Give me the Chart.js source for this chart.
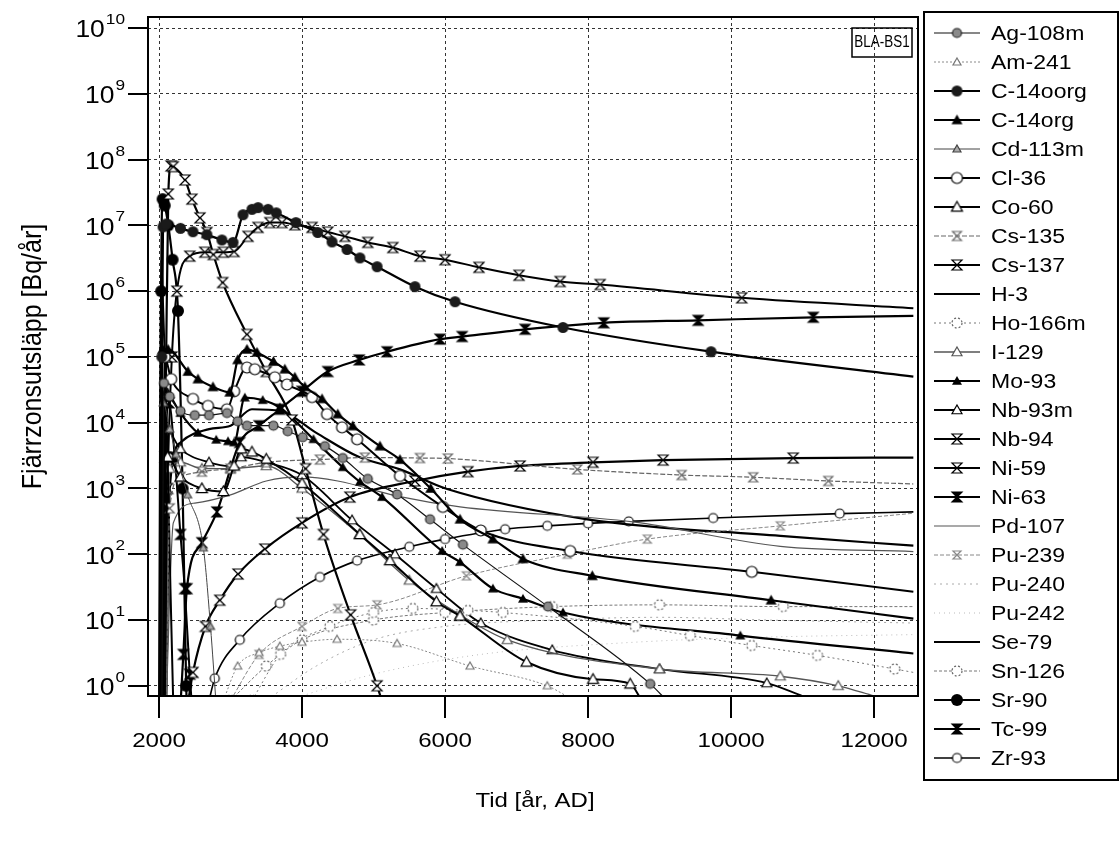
<!DOCTYPE html>
<html>
<head>
<meta charset="utf-8">
<script src="https://cdn.jsdelivr.net/npm/chart.js@4.4.1/dist/chart.umd.min.js"></script>
<style>
  html, body { margin: 0; padding: 0; background: #fff; }
</style>
</head>
<body>
<canvas id="chart" width="1119" height="846"></canvas>
<script>
// axis ticks
const xTicks = [2000, 4000, 6000, 8000, 10000, 12000];
const yTicks = [1, 1e1, 1e2, 1e3, 1e4, 1e5, 1e6, 1e7, 1e8, 1e9, 1e10];

// series: time [år, AD] and release [Bq/år]
const agT = [2040, 2070, 2150, 2300, 2500, 2700, 2950, 3100, 3230, 3600, 3800, 4010, 4320, 4570, 4920, 5330, 5790, 6250, 7440, 8870, 9100];
const agV = [0.5, 4e4, 2.5e4, 1.5e4, 1.3e4, 1.3e4, 1.4e4, 1.05e4, 9e3, 9e3, 7.4e3, 6e3, 4.4e3, 2.9e3, 1.4e3, 810, 340, 140, 16, 1.07, 0.6];

const amT = [2900, 3100, 3400, 3690, 4000, 4490, 5330, 6350, 7430, 7700];
const amV = [0.6, 2, 3.2, 4, 4.6, 5.1, 4.4, 2, 1, 0.7];

const c14oT = [2020, 2040, 2056, 2100, 2300, 2475, 2670, 2880, 3035, 3175, 3300, 3385, 3525, 3640, 3915, 4220, 4420, 4630, 4810, 5050, 5580, 6140, 7650, 9720, 12550];
const c14oV = [0.5, 1e5, 9.5e6, 1.05e7, 9e6, 8e6, 7.2e6, 6e6, 5.5e6, 1.45e7, 1.75e7, 1.86e7, 1.75e7, 1.55e7, 1.1e7, 7.8e6, 5.6e6, 4.3e6, 3.2e6, 2.35e6, 1.17e6, 6.9e5, 2.8e5, 1.2e5, 5e4];

const c14T = [2030, 2050, 2126, 2405, 2545, 2755, 2990, 3100, 3230, 3370, 3600, 3760, 3900, 4040, 4280, 4500, 4710, 5090, 5370, 5800, 6210, 6670, 7090, 8060, 10560, 12550];
const c14V = [0.5, 1.3e5, 1.3e5, 6e4, 4.6e4, 3.5e4, 2.9e4, 9e4, 1.3e5, 1.17e5, 8.5e4, 6.5e4, 4.9e4, 3.5e4, 2.3e4, 1.35e4, 8.9e3, 4.4e3, 2.75e3, 1e3, 340, 170, 85, 47, 20, 10.5];

const cdT = [2030, 2060, 2150, 2240, 2400, 2620, 2720, 2800];
const cdV = [0.5, 2e4, 8e3, 3.3e3, 800, 125, 8, 0.5];

const clT = [2050, 2080, 2170, 2475, 2685, 2950, 3050, 3230, 3340, 3620, 3790, 4140, 4350, 4560, 4770, 5370, 5970, 6500, 7750, 10290, 12550];
const clV = [0.5, 1e5, 4.6e4, 2.3e4, 1.8e4, 1.6e4, 3e4, 6.9e4, 6.5e4, 4.9e4, 3.8e4, 2.45e4, 1.35e4, 8.5e3, 5.6e3, 1.55e3, 525, 230, 112, 54, 27];

const coT = [2080, 2120, 2300, 2600, 2900, 3050, 3150, 3300, 3500, 4000, 4810, 5230, 5880, 6210, 7140, 8070, 8590, 8750];
const coV = [0.5, 3e3, 1.5e3, 1e3, 900, 2.2e3, 4e3, 3.6e3, 2.8e3, 1.2e3, 200, 80, 19, 11.5, 2.3, 1.26, 1.07, 0.6];

const cs135T = [2100, 2150, 2300, 2600, 3000, 3500, 4250, 4880, 5650, 6040, 7850, 9310, 10310, 11360, 12550];
const cs135V = [0.5, 500, 1.5e3, 1.8e3, 2e3, 2.5e3, 2.75e3, 2.95e3, 2.9e3, 2.85e3, 1.95e3, 1.6e3, 1.48e3, 1.3e3, 1.17e3];

const cs137T = [2050, 2100, 2130, 2170, 2200, 2364, 2460, 2573, 2670, 2760, 2890, 3230, 3500, 3860, 4050, 4300, 4680, 5050, 5200];
const cs137V = [0.5, 1e5, 3e7, 8e7, 7.8e7, 4.9e7, 2.5e7, 1.3e7, 7.8e6, 3.6e6, 1.35e6, 2.2e5, 6e4, 1.1e4, 2e3, 200, 12, 1, 0.3];

const h3T = [2000, 2015, 2030, 2050, 2080, 2120, 2160, 2200];
const h3V = [0.5, 1e4, 3e6, 1e6, 1e5, 3e3, 30, 0.5];

const hoT = [3300, 3700, 4390, 5000, 5550, 6320, 6810, 8660, 9430, 10290, 11210, 12290, 12550];
const hoV = [0.6, 3, 8, 13, 15, 14, 13, 8, 5.8, 4.1, 2.9, 1.8, 1.6];

const i129T = [2100, 2150, 2300, 2600, 3000, 3500, 4000, 4800, 5500, 6210, 6870, 9000, 10690, 11500, 12000];
const i129V = [0.5, 2e3, 2.5e3, 2e3, 2e3, 2.2e3, 1e3, 200, 40, 12, 5, 1.8, 1.4, 1, 0.7];

const moT = [2080, 2100, 2120, 2300, 2545, 2800, 2965, 3050, 3200, 3450, 3690, 4160, 4570, 4810, 5120, 5960, 6210, 6670, 7090, 7650, 10130, 12550];
const moV = [0.5, 3e4, 2.9e4, 1.4e4, 7e3, 5.5e3, 5.2e3, 5e3, 2.4e4, 2.2e4, 1.7e4, 5.6e3, 2.1e3, 1.26e3, 740, 112, 76, 30, 21, 13, 5.8, 3.1];

const nb93T = [2060, 2100, 2300, 2700, 3000, 3150, 3500, 4000, 4700, 5300, 5880, 6500, 7500, 9000, 10500, 11000];
const nb93V = [0.5, 8e3, 4e3, 2.5e3, 2.2e3, 3e3, 2.5e3, 1.6e3, 330, 100, 30, 9, 3.5, 1.8, 1.1, 0.7];

const nb94T = [2080, 2120, 2180, 2250, 2430, 2640, 2900, 3050, 3245, 3385, 3550, 3720, 3900, 4140, 4360, 4600, 4920, 5270, 5650, 6000, 6475, 7035, 7610, 8170, 10150, 12550];
const nb94V = [0.5, 1e3, 1e5, 1e6, 3.4e6, 3.9e6, 3.9e6, 4e6, 6.8e6, 9.3e6, 1.1e7, 1.1e7, 1.02e7, 9.3e6, 7.9e6, 6.8e6, 5.5e6, 4.6e6, 3.4e6, 3e6, 2.3e6, 1.74e6, 1.4e6, 1.26e6, 7.9e5, 5.5e5];

const ni59T = [2400, 2475, 2650, 2850, 3105, 3480, 4000, 4670, 5580, 6320, 7050, 8070, 9050, 10870, 12550];
const ni59V = [0.5, 1.6, 8, 20, 50, 120, 300, 740, 1.3e3, 1.8e3, 2.2e3, 2.5e3, 2.7e3, 2.9e3, 2.95e3];

const ni63T = [2050, 2090, 2140, 2220, 2300, 2360, 2430, 2460];
const ni63V = [0.5, 3e3, 2e4, 3e3, 200, 30, 1.5, 0.5];

const pdT = [2100, 2200, 2500, 3000, 3500, 4000, 4500, 5370, 6210, 8630, 10690, 12550];
const pdV = [0.5, 300, 600, 800, 1.3e3, 1.5e3, 1.3e3, 750, 525, 310, 132, 110];

const pu239T = [3000, 3400, 4000, 4500, 5050, 6300, 7710, 8830, 10690, 12550];
const pu239V = [0.6, 3, 8, 15, 17, 47, 100, 170, 270, 420];

const pu240T = [3500, 4200, 5000, 6000, 7500, 9000, 10500, 12550];
const pu240V = [0.6, 2, 5, 8, 10, 11, 10, 9];

const pu242T = [3800, 5000, 6500, 8500, 10500, 12550];
const pu242V = [0.6, 1.5, 3, 4.5, 5.5, 6];

const seT = [2100, 2150, 2300, 2700, 3000, 3300, 3700, 4200, 4800, 5370, 6030, 7990, 10690, 12550];
const seV = [0.5, 1e3, 5e3, 8e3, 9e3, 1.6e4, 1.5e4, 7e3, 3e3, 1.95e3, 980, 340, 190, 135];

const snT = [3000, 3500, 4000, 5000, 6000, 7500, 9000, 10730, 12550];
const snV = [0.6, 2, 5, 10, 13, 16, 17, 16, 16];

const srT = [2010, 2030, 2050, 2080, 2130, 2190, 2265, 2330, 2380, 2400];
const srV = [0.5, 1e6, 2.5e7, 2e7, 1e7, 3e6, 5e5, 1e3, 1, 0.3];

const tcT = [2300, 2340, 2390, 2600, 2810, 3130, 3400, 3690, 4000, 4360, 4800, 5190, 5930, 6240, 7120, 8220, 9540, 11150, 12550];
const tcV = [0.5, 3, 30, 150, 440, 5e3, 9e3, 1.6e4, 3e4, 6e4, 9e4, 1.2e5, 1.86e5, 2.04e5, 2.63e5, 3.3e5, 3.6e5, 4e5, 4.2e5];

const zrT = [2700, 2780, 3130, 3690, 4250, 4770, 5500, 6000, 6840, 7430, 8000, 8570, 9750, 11520, 12550];
const zrV = [0.6, 1.3, 5, 18, 45, 80, 130, 170, 240, 270, 295, 316, 355, 415, 440];

const FONT = '"Liberation Sans", Arial, sans-serif';

// small canvas markers
function marker(kind, r, color) {
  const s = Math.ceil(2 * r + 4);
  const c = document.createElement('canvas');
  c.width = s; c.height = s;
  const g = c.getContext('2d');
  const m = s / 2;
  g.lineWidth = 1.2;
  g.strokeStyle = color || '#000';
  g.fillStyle = color || '#000';
  const circ = () => { g.beginPath(); g.arc(m, m, r, 0, Math.PI * 2); };
  const tri = () => { g.beginPath(); g.moveTo(m, m - r); g.lineTo(m + r, m + r * 0.75); g.lineTo(m - r, m + r * 0.75); g.closePath(); };
  const hour = () => { g.beginPath(); g.moveTo(m - r, m - r); g.lineTo(m + r, m - r); g.lineTo(m - r, m + r); g.lineTo(m + r, m + r); g.closePath(); };
  if (kind === 'dot') { circ(); g.fill(); }
  if (kind === 'ring') { circ(); g.fillStyle = '#fff'; g.fill(); g.stroke(); }
  if (kind === 'dashRing') { circ(); g.fillStyle = '#fff'; g.fill(); g.setLineDash([2, 2]); g.stroke(); }
  if (kind === 'grayDot') { circ(); g.fillStyle = '#8a8a8a'; g.fill(); g.strokeStyle = '#222'; g.stroke(); }
  if (kind === 'tri') { tri(); g.fill(); }
  if (kind === 'openTri') { tri(); g.fillStyle = '#fff'; g.fill(); g.stroke(); }
  if (kind === 'grayTri') { tri(); g.fillStyle = '#aaa'; g.fill(); g.stroke(); }
  if (kind === 'hour') { hour(); g.fillStyle = '#fff'; g.fill(); g.stroke(); }
  if (kind === 'hourFill') { hour(); g.fill(); g.stroke(); }
  return c;
}

function pts(t, v) {
  return t.map((x, i) => ({ x: x, y: v[i] }));
}

function series(label, t, v, color, width, dash, mk) {
  return {
    label: label,
    data: pts(t, v),
    borderColor: color,
    borderWidth: width,
    borderDash: dash,
    pointStyle: mk || false,
    pointRadius: mk ? (ctx => ctx.dataIndex === ctx.dataset.data.length - 1 ? 0 : 4) : 0,
    cubicInterpolationMode: 'monotone',
    fill: false
  };
}

const datasets = [
  series('Ag-108m', agT, agV, '#111', 1.2, [], marker('grayDot', 4.5)),
  series('Am-241', amT, amV, '#8a8a8a', 1, [2, 2], marker('openTri', 4, '#777')),
  series('C-14oorg', c14oT, c14oV, '#000', 2.2, [], marker('dot', 5.5, '#1a1a1a')),
  series('C-14org', c14T, c14V, '#000', 2.2, [], marker('tri', 5.5)),
  series('Cd-113m', cdT, cdV, '#444', 1, [], marker('grayTri', 4, '#444')),
  series('Cl-36', clT, clV, '#000', 2, [], marker('ring', 5.5)),
  series('Co-60', coT, coV, '#000', 2, [], marker('openTri', 5.5)),
  series('Cs-135', cs135T, cs135V, '#666', 1.2, [5, 2], marker('hour', 4.5, '#666')),
  series('Cs-137', cs137T, cs137V, '#000', 2.2, [], marker('hour', 5)),
  series('H-3', h3T, h3V, '#000', 2, [], null),
  series('Ho-166m', hoT, hoV, '#777', 1, [2, 3], marker('dashRing', 5, '#666')),
  series('I-129', i129T, i129V, '#555', 1.4, [], marker('openTri', 5, '#555')),
  series('Mo-93', moT, moV, '#000', 2.2, [], marker('tri', 5)),
  series('Nb-93m', nb93T, nb93V, '#000', 1.8, [], marker('openTri', 5)),
  series('Nb-94', nb94T, nb94V, '#000', 2, [], marker('hour', 5)),
  series('Ni-59', ni59T, ni59V, '#000', 2.2, [], marker('hour', 5)),
  series('Ni-63', ni63T, ni63V, '#000', 2, [], marker('hourFill', 5)),
  series('Pd-107', pdT, pdV, '#555', 1.2, [], null),
  series('Pu-239', pu239T, pu239V, '#888', 1, [4, 2], marker('hour', 4, '#888')),
  series('Pu-240', pu240T, pu240V, '#aaa', 1, [2, 4], null),
  series('Pu-242', pu242T, pu242V, '#bbb', 1, [1, 4], null),
  series('Se-79', seT, seV, '#000', 2.2, [], null),
  series('Sn-126', snT, snV, '#777', 1, [3, 2], marker('dashRing', 5, '#666')),
  series('Sr-90', srT, srV, '#000', 2.2, [], marker('dot', 6)),
  series('Tc-99', tcT, tcV, '#000', 2.2, [], marker('hourFill', 5)),
  series('Zr-93', zrT, zrV, '#000', 1.6, [], marker('ring', 4.5))
];

// text helper, glyphs are a bit wide in the original
function text(ctx, str, x, y, size, sx, align, base) {
  ctx.save();
  ctx.translate(x, y);
  ctx.scale(sx, 1);
  ctx.font = size + 'px ' + FONT;
  ctx.textAlign = align;
  ctx.textBaseline = base;
  ctx.fillStyle = '#000';
  ctx.fillText(str, 0, 0);
  ctx.restore();
}

const decor = {
  id: 'decor',
  afterDraw(chart) {
    const ctx = chart.ctx;
    const a = chart.chartArea;
    const xs = chart.scales.x, ys = chart.scales.y;
    ctx.save();
    ctx.strokeStyle = '#000';
    ctx.lineWidth = 2;
    ctx.setLineDash([]);
    ctx.strokeRect(a.left, a.top, a.right - a.left, a.bottom - a.top);

    // outward tick marks
    ctx.beginPath();
    yTicks.forEach(v => {
      const py = Math.round(ys.getPixelForValue(v));
      ctx.moveTo(a.left - 20, py); ctx.lineTo(a.left, py);
    });
    xTicks.forEach(v => {
      const px = Math.round(xs.getPixelForValue(v));
      ctx.moveTo(px, a.bottom); ctx.lineTo(px, a.bottom + 22);
    });
    ctx.stroke();

    // y tick labels 10^n
    yTicks.forEach(v => {
      const py = ys.getPixelForValue(v);
      const e = String(Math.round(Math.log10(v)));
      ctx.font = '15px ' + FONT;
      const we = ctx.measureText(e).width * 1.15;
      text(ctx, e, 125, py - 8, 15, 1.15, 'right', 'middle');
      text(ctx, '10', 125 - we - 1, py + 3, 23, 1.15, 'right', 'middle');
    });
    // x tick labels
    xTicks.forEach(v => {
      const px = xs.getPixelForValue(v);
      text(ctx, String(v), px, 741, 21, 1.15, 'center', 'middle');
    });

    // axis titles
    text(ctx, 'Tid [år, AD]', (a.left + a.right) / 2 + 2, 801, 20, 1.2, 'center', 'middle');
    ctx.save();
    ctx.translate(33, (a.top + a.bottom) / 2);
    ctx.rotate(-Math.PI / 2);
    ctx.scale(1, 1.1);
    ctx.font = '25px ' + FONT;
    ctx.textAlign = 'center';
    ctx.textBaseline = 'middle';
    ctx.fillStyle = '#000';
    ctx.fillText('Fjärrzonsutsläpp [Bq/år]', 0, 0);
    ctx.restore();

    // case label box
    ctx.lineWidth = 1.5;
    ctx.strokeRect(852, 28, 60, 29);
    text(ctx, 'BLA-BS1', 882, 43, 16, 0.84, 'center', 'middle');

    // legend
    ctx.lineWidth = 2;
    ctx.strokeRect(924, 12, 194, 768);
    chart.data.datasets.forEach((ds, i) => {
      const y = 33 + i * 29;
      ctx.save();
      ctx.strokeStyle = ds.borderColor;
      ctx.lineWidth = ds.borderWidth;
      ctx.setLineDash(ds.borderDash || []);
      ctx.beginPath();
      ctx.moveTo(934, y); ctx.lineTo(980, y);
      ctx.stroke();
      ctx.restore();
      if (ds.pointStyle) {
        const c = ds.pointStyle;
        ctx.drawImage(c, 957 - c.width / 2, y - c.height / 2);
      }
      text(ctx, ds.label, 991, y + 1, 20, 1.15, 'left', 'middle');
    });
    ctx.restore();
  }
};

new Chart(document.getElementById('chart'), {
  type: 'line',
  data: { datasets: datasets },
  options: {
    responsive: false,
    animation: false,
    events: [],
    layout: { padding: { left: 148, right: 201, top: 17, bottom: 150 } },
    plugins: { legend: { display: false }, tooltip: { enabled: false } },
    scales: {
      x: {
        type: 'linear',
        min: 1846,
        max: 12615,
        afterBuildTicks: s => { s.ticks = xTicks.map(v => ({ value: v })); },
        afterFit: s => { s.height = 0; },
        ticks: { display: false },
        grid: { color: '#333', lineWidth: 1, drawTicks: false },
        border: { display: false, dash: [3, 3] }
      },
      y: {
        type: 'logarithmic',
        min: 0.73,
        max: 1.47e10,
        afterBuildTicks: s => { s.ticks = yTicks.map(v => ({ value: v })); },
        afterFit: s => { s.width = 0; },
        ticks: { display: false },
        grid: { color: '#333', lineWidth: 1, drawTicks: false },
        border: { display: false, dash: [3, 3] }
      }
    }
  },
  plugins: [decor]
});
</script>
</body>
</html>
